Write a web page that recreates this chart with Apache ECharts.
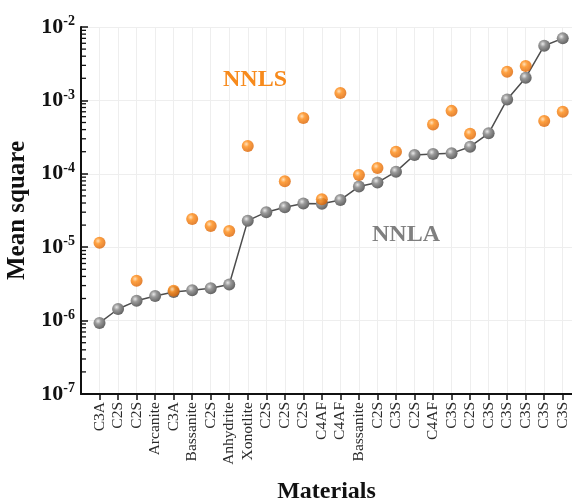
<!DOCTYPE html>
<html>
<head>
<meta charset="utf-8">
<script src="https://cdn.jsdelivr.net/npm/echarts@6/dist/echarts.min.js"></script>
<style>html,body{margin:0;padding:0;background:#fff}#c{width:572px;height:500px}</style>
</head>
<body>
<div id="c"></div>
<script>
const categories = ['C3A','C2S','C2S','Arcanite','C3A','Bassanite','C2S','Anhydrite','Xonotlite','C2S','C2S','C2S','C4AF','C4AF','Bassanite','C2S','C3S','C2S','C4AF','C3S','C2S','C3S','C3S','C3S','C3S','C3S'];
const nnla = [9.3e-7,1.44e-6,1.86e-6,2.16e-6,2.45e-6,2.6e-6,2.75e-6,3.1e-6,2.3e-5,3.0e-5,3.5e-5,3.95e-5,3.9e-5,4.4e-5,6.7e-5,7.6e-5,1.07e-4,1.8e-4,1.86e-4,1.9e-4,2.34e-4,3.56e-4,1.03e-3,2.04e-3,5.56e-3,7.0e-3];
const nnls = [1.15e-5,null,3.5e-6,null,2.55e-6,2.42e-5,1.95e-5,1.66e-5,2.4e-4,null,7.9e-5,5.75e-4,4.49e-5,1.26e-3,9.6e-5,1.2e-4,2.0e-4,null,4.7e-4,7.2e-4,3.5e-4,null,2.46e-3,2.94e-3,5.25e-4,7.0e-4];
const minorTickValues = [];
[-7,-6,-5,-4,-3].forEach(function(e){ for (let m = 2; m <= 9; m++) minorTickValues.push(m * Math.pow(10, e)); });

const serif = '"Liberation Serif", "Times New Roman", serif';
const chart = echarts.init(document.getElementById('c'), null, {renderer: 'canvas'});

const grayBall = {type:'radial', x:0.38, y:0.35, r:0.7, colorStops:[{offset:0,color:'#e8e8e8'},{offset:0.35,color:'#9a9a9a'},{offset:1,color:'#5e5e5e'}]};
const orangeBall = {type:'radial', x:0.38, y:0.35, r:0.7, colorStops:[{offset:0,color:'#ffd9a8'},{offset:0.35,color:'#ff8a12'},{offset:1,color:'#d85f00'}]};
const tickPositions = categories.map(function(c, i){ return i + 1; });

const option = {
  animation: false,
  backgroundColor: '#fff',
  grid: {left: 81, right: 0, top: 27, bottom: 106, containLabel: false, outerBoundsMode: 'none'},
  xAxis: {
    type: 'value', min: 0, max: 26.5, interval: 1,
    name: 'Materials', nameLocation: 'middle', nameGap: 86,
    nameTextStyle: {fontFamily: serif, fontWeight: 'bold', fontSize: 24, color: '#111'},
    axisLine: {show: true, lineStyle: {color: '#111', width: 2}},
    axisTick: {show: true, inside: false, length: 6, lineStyle: {color: '#111', width: 1.5}, customValues: tickPositions},
    axisLabel: {rotate: 90, fontFamily: serif, fontSize: 15.5, color: '#2a2a2a', margin: 8,
      customValues: tickPositions,
      formatter: function(v){ const i = Math.round(v) - 1; return categories[i] || ''; }},
    splitLine: {show: true, lineStyle: {color: '#eeeeee', width: 1}}
  },
  yAxis: {
    type: 'log', min: 1e-7, max: 1e-2, logBase: 10,
    name: 'Mean square', nameLocation: 'middle', nameGap: 48, nameRotate: 90,
    nameTextStyle: {fontFamily: serif, fontWeight: 'bold', fontSize: 25, color: '#111'},
    axisLine: {show: true, lineStyle: {color: '#111', width: 2}},
    axisTick: {show: true, inside: true, length: 7, lineStyle: {color: '#111', width: 1.5}},
    axisLabel: {
      margin: 6,
      formatter: function(v){ const e = Math.round(Math.log10(v)); return '{b|10}{s|' + e + '}'; },
      rich: {
        b: {fontFamily: serif, fontWeight: 'bold', fontSize: 22, color: '#111'},
        s: {fontFamily: serif, fontWeight: 'bold', fontSize: 14, color: '#111', padding: [0,0,11,0]}
      }
    },
    splitLine: {show: true, lineStyle: {color: '#eeeeee', width: 1}}
  },
  graphic: [
    {type: 'text', left: 223, top: 68, z: 10, style: {text: 'NNLS', fontFamily: serif, fontWeight: 'bold', fontSize: 24, fill: '#f78a1c'}},
    {type: 'text', left: 372, top: 223, z: 10, style: {text: 'NNLA', fontFamily: serif, fontWeight: 'bold', fontSize: 24, fill: '#7f7f7f'}}
  ],
  series: [
    {
      type: 'scatter', name: 'minorTicks', silent: true, z: 6, clip: false,
      data: minorTickValues.map(function(v){ return [0, v]; }),
      symbol: 'rect', symbolSize: [5, 1.3], symbolOffset: [2.5, 0],
      itemStyle: {color: '#111', opacity: 1},
      emphasis: {disabled: true}
    },
    {
      type: 'line', name: 'NNLA', z: 3,
      data: nnla.map(function(v, i){ return [i + 1, v]; }),
      symbol: 'circle', symbolSize: 12, showSymbol: true,
      lineStyle: {color: '#4d4d4d', width: 1.5},
      itemStyle: {color: grayBall, borderWidth: 0}
    },
    {
      type: 'scatter', name: 'NNLS', z: 4,
      data: nnls.map(function(v, i){ return v == null ? null : [i + 1, v]; }).filter(function(d){ return d; }),
      symbol: 'circle', symbolSize: 12,
      itemStyle: {color: orangeBall, borderWidth: 0}
    }
  ]
};
chart.setOption(option);
</script>
</body>
</html>
